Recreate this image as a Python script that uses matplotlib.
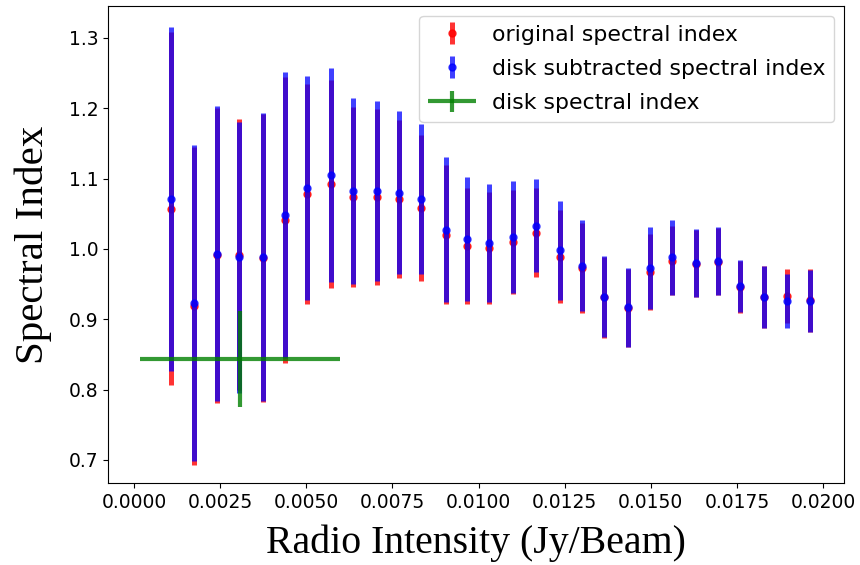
import matplotlib
matplotlib.use("Agg")
import matplotlib.pyplot as plt
from matplotlib.legend_handler import HandlerErrorbar

# Radio intensity bins (Jy/Beam)
intensity = [0.00107, 0.00174, 0.00241, 0.00305, 0.00375, 0.00438, 0.00502, 0.00572,
             0.00636, 0.00706, 0.00770, 0.00833, 0.00906, 0.00967, 0.01031, 0.01101,
             0.01167, 0.01237, 0.01301, 0.01365, 0.01434, 0.01498, 0.01562, 0.01632,
             0.01696, 0.01760, 0.01829, 0.01896, 0.01963]

# Original spectral index and its uncertainty
orig_index = [1.057, 0.919, 0.991, 0.992, 0.987, 1.041, 1.078, 1.092, 1.074, 1.074,
              1.071, 1.058, 1.020, 1.004, 1.001, 1.010, 1.023, 0.989, 0.973, 0.931,
              0.916, 0.967, 0.983, 0.979, 0.982, 0.946, 0.931, 0.933, 0.927]
orig_err = [0.251, 0.226, 0.210, 0.193, 0.205, 0.204, 0.157, 0.148, 0.128, 0.125,
            0.113, 0.104, 0.099, 0.083, 0.080, 0.074, 0.063, 0.066, 0.064, 0.058,
            0.056, 0.054, 0.049, 0.048, 0.048, 0.037, 0.044, 0.038, 0.045]

# Spectral index after subtracting the disk component
sub_index = [1.071, 0.923, 0.993, 0.988, 0.988, 1.048, 1.087, 1.105, 1.082, 1.082,
             1.080, 1.071, 1.027, 1.014, 1.008, 1.017, 1.033, 0.998, 0.976, 0.932,
             0.917, 0.973, 0.988, 0.980, 0.983, 0.947, 0.932, 0.926, 0.926]
sub_err = [0.245, 0.225, 0.210, 0.193, 0.205, 0.203, 0.159, 0.152, 0.132, 0.128,
           0.116, 0.107, 0.103, 0.088, 0.084, 0.080, 0.066, 0.070, 0.065, 0.058,
           0.056, 0.058, 0.053, 0.048, 0.048, 0.037, 0.044, 0.038, 0.044]

# Disk spectral index
disk_x = [0.00308]
disk_xerr = [0.0029]
disk_index = [0.843]
disk_err = [0.068]

fig = plt.figure(figsize=(8.6, 5.65), dpi=100)
ax = fig.add_axes([0.1256, 0.1451, 0.8558, 0.8443])

ax.errorbar(intensity, orig_index, yerr=orig_err, fmt='o', color='red', ecolor='red',
            elinewidth=3.6, markersize=5, alpha=0.8, label='original spectral index', zorder=2)
ax.errorbar(intensity, sub_index, yerr=sub_err, fmt='o', color='blue', ecolor='blue',
            elinewidth=3.6, markersize=5, alpha=0.75, label='disk subtracted spectral index', zorder=3)
disk = ax.errorbar(disk_x, disk_index, xerr=disk_xerr, yerr=disk_err, fmt='none', ecolor='green',
                   elinewidth=3.0, alpha=0.8, label='disk spectral index', zorder=4)

ax.set_xlim(-0.00076, 0.02061)
ax.set_ylim(0.667, 1.3455)
ax.set_xticks([0.0, 0.0025, 0.005, 0.0075, 0.01, 0.0125, 0.015, 0.0175, 0.02])
ax.set_xticklabels(['0.0000', '0.0025', '0.0050', '0.0075', '0.0100', '0.0125',
                    '0.0150', '0.0175', '0.0200'])
ax.set_yticks([0.7, 0.8, 0.9, 1.0, 1.1, 1.2, 1.3])
ax.tick_params(labelsize=13.5)

ax.set_xlabel('Radio Intensity (Jy/Beam)', family='Liberation Serif', fontsize=28.6,
              labelpad=9.5)
ax.set_ylabel('Spectral Index', family='Liberation Serif', fontsize=29.5, labelpad=12)

ax.legend(loc='upper right', fontsize=15.8, handlelength=2.2, labelspacing=0.65,
          handletextpad=0.7, borderaxespad=0.45,
          handler_map={disk: HandlerErrorbar(xerr_size=1.1, yerr_size=0.5)})

fig.savefig('out.png', dpi=100)
